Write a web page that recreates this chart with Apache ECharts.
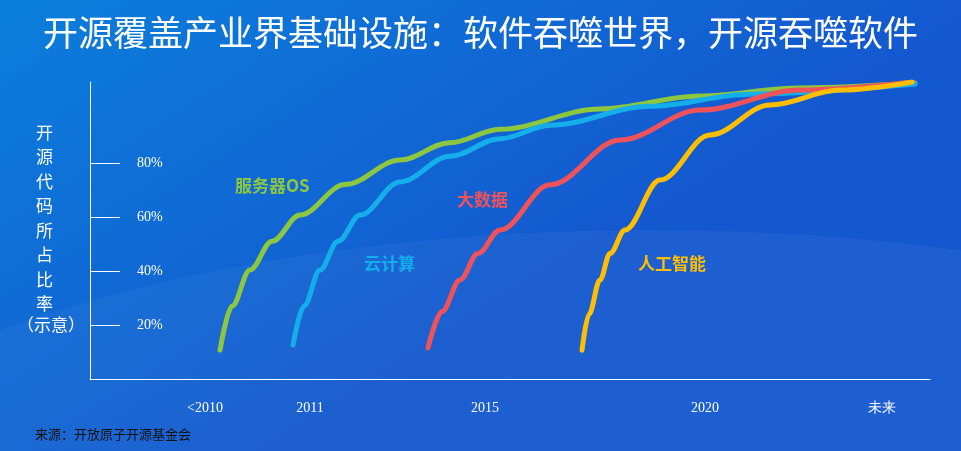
<!DOCTYPE html>
<html><head><meta charset="utf-8">
<script src="https://cdn.jsdelivr.net/npm/echarts@6/dist/echarts.min.js"></script>
<style>html,body{margin:0;padding:0}#c{width:961px;height:451px}</style>
</head><body><div id="c"></div>
<script>
const yTicks=[20,40,60,80];
const xTickPos=[115,220,395,615,792];
const xTickLabels=['<2010','2011','2015','2020','未来'];
const greenOS=[[130,10.7],[142,27],[160,40.4],[182,51],[210,60.7],[255,72],[310,81.1],[360,87.5],[410,92.5],[510,100],[610,104.8],[710,107.8],[825,109.6]];
const cloud=[[203,12.6],[214,27],[230,40.4],[248,51],[270,60.7],[310,73],[360,82.5],[410,89],[460,94],[560,101],[660,105.5],[825,109.3]];
const bigData=[[338,11.5],[352,25],[370,36.7],[388,46.5],[410,55.2],[460,71.9],[530,88.5],[610,99.6],[710,107],[822,110]];
const ai=[[492,10.7],[499,24],[510,36.7],[520,46.5],[535,55.2],[570,73.7],[620,90.4],[680,101.5],[750,107],[822,110]];
const names=['服务器OS','云计算','大数据','人工智能'];
const colors=['#8dc63f','#14aeea','#f0525a','#ffbf00'];
const chart=echarts.init(document.getElementById('c'));
const mk=(d,i)=>({type:'line',data:d,smooth:0.35,smoothMonotone:'x',symbol:'none',lineStyle:{width:5,color:colors[i],cap:'round'},z:3});
chart.setOption({
backgroundColor:{type:'linear',x:0,y:0,x2:0.3,y2:1,colorStops:[{offset:0,color:'#0b7fdc'},{offset:1,color:'#1458cf'}]},
title:{text:'开源覆盖产业界基础设施：软件吞噬世界，开源吞噬软件',left:'center',top:10,textStyle:{color:'#fff',fontSize:35,fontWeight:'normal',fontFamily:'Noto Sans CJK SC'}},
grid:{left:90,right:31,top:82,bottom:72},
xAxis:{type:'value',min:0,max:840,splitLine:{show:false},axisLine:{lineStyle:{color:'#fff'}},
 axisTick:{show:false},axisLabel:{customValues:xTickPos,formatter:(v)=>xTickLabels[xTickPos.indexOf(v)],color:'#fff',fontSize:14,fontFamily:'Liberation Serif',margin:22}},
yAxis:{type:'value',min:0,max:110,splitLine:{show:false},axisLine:{show:true,lineStyle:{color:'#fff'}},
 axisTick:{show:true,inside:true,length:30,customValues:yTicks,lineStyle:{color:'#fff'}},
 axisLabel:{inside:true,margin:47,customValues:yTicks,formatter:'{value}%',color:'#fff',fontSize:14,fontFamily:'Liberation Serif'}},
graphic:[
 {type:'ellipse',shape:{cx:650,cy:600,rx:950,ry:370},style:{fill:'rgba(255,255,255,0.04)'},z:-1},
 {type:'text',left:36,top:120,style:{text:'开\n源\n代\n码\n所\n占\n比\n率',fill:'#fff',fontSize:17,lineHeight:24.5,align:'center',fontFamily:'Noto Sans CJK SC'}},
 {type:'text',left:17,top:316,style:{text:'（示意）',fill:'#fff',fontSize:17,fontFamily:'Noto Sans CJK SC'}},
 {type:'text',left:235,top:177,style:{text:names[0],fill:colors[0],fontSize:17,fontWeight:'bold',fontFamily:'Noto Sans CJK SC'}},
 {type:'text',left:364,top:255,style:{text:names[1],fill:colors[1],fontSize:17,fontWeight:'bold',fontFamily:'Noto Sans CJK SC'}},
 {type:'text',left:457,top:191,style:{text:names[2],fill:colors[2],fontSize:17,fontWeight:'bold',fontFamily:'Noto Sans CJK SC'}},
 {type:'text',left:638,top:255,style:{text:names[3],fill:colors[3],fontSize:17,fontWeight:'bold',fontFamily:'Noto Sans CJK SC'}},
 {type:'text',left:35,top:428,style:{text:'来源：开放原子开源基金会',fill:'#111',fontSize:13,fontFamily:'Noto Sans CJK SC'}}
],
series:[mk(greenOS,0),mk(cloud,1),mk(bigData,2),mk(ai,3)]
});
</script></body></html>
